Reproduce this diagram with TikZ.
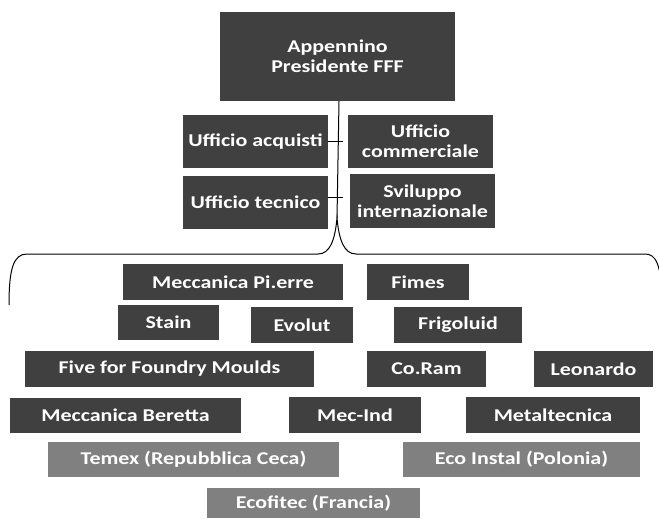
\documentclass[tikz,border=0pt]{standalone}
\usepackage{fontspec}
\setmainfont{Carlito}[FakeStretch=1.22]
\definecolor{boxdark}{HTML}{404040}
\definecolor{boxgrey}{HTML}{808080}
\tikzset{
  orgbox/.style={fill=boxdark,text=white,font=\fontsize{18}{20}\selectfont\bfseries,
    align=center,inner sep=1pt},
  extbox/.style={orgbox,fill=boxgrey},
  link/.style={line width=1pt,black}
}

\begin{document}
\begin{tikzpicture}[x=1pt,y=-1pt]
\useasboundingbox (0,0) rectangle (659,519);
\clip (0,0) rectangle (659,519);

% vertice e uffici
\node[orgbox,minimum width=235,minimum height=89] (app) at (337.5,56.5) {Appennino\\Presidente FFF};
\node[orgbox,minimum width=145,minimum height=53] (acq) at (255.5,141.5) {Ufficio acquisti};
\node[orgbox,minimum width=145,minimum height=53] (comm) at (420.5,141.5) {Ufficio\\commerciale};
\node[orgbox,minimum width=145,minimum height=53] (tec) at (255.5,202.5) {Ufficio tecnico};
\node[orgbox,minimum width=145,minimum height=54] (svil) at (422.5,201) {Sviluppo\\internazionale};

\coordinate (peak) at (337,218);
\coordinate (tick1) at (343,141.5);
\coordinate (tick2) at (343,197);
\draw[link] ([xshift=1.5pt]app.south) -- (peak);
\draw[link] (acq.east) -- (tick1);
\draw[link] (tec.east |- tick2) -- (tick2);

% graffa
\coordinate (bl) at (9,305);
\coordinate (br) at (662,305);
\draw[link] (bl) .. controls (9,270) and (13,254) .. (27,254) -- (318,254)
  .. controls (330,254) and (335,240) .. (peak)
  .. controls (339,240) and (344,254) .. (356,254) -- (645,254)
  .. controls (655,254) and (662,262) .. (br);

% aziende del gruppo
\node[orgbox,minimum width=220,minimum height=36] (pierre) at (233,282) {Meccanica Pi.erre};
\node[orgbox,minimum width=102,minimum height=36] (fimes) at (418,282) {Fimes};
\node[orgbox,minimum width=101,minimum height=35] (stain) at (168.5,322.5) {Stain};
\node[orgbox,minimum width=102,minimum height=36] (evolut) at (302,325) {Evolut};
\node[orgbox,minimum width=128,minimum height=36] (frigo) at (458,325) {Frigoluid};
\node[orgbox,minimum width=289,minimum height=36] (five) at (169.5,369) {Five for Foundry Moulds};
\node[orgbox,minimum width=119,minimum height=36] (coram) at (426.5,369) {Co.Ram};
\node[orgbox,minimum width=119,minimum height=36] (leonardo) at (593.5,369) {Leonardo};
\node[orgbox,minimum width=231,minimum height=35] (beretta) at (125.5,415.5) {Meccanica Beretta};
\node[orgbox,minimum width=132,minimum height=36] (mecind) at (355,415) {Mec-Ind};
\node[orgbox,minimum width=174,minimum height=36] (metal) at (553,415) {Metaltecnica};

% estero
\node[extbox,minimum width=291,minimum height=35] (temex) at (193.5,459.5) {Temex (Repubblica Ceca)};
\node[extbox,minimum width=237,minimum height=35] (ecoinst) at (521.5,459.5) {Eco Instal (Polonia)};
\node[extbox,minimum width=213,minimum height=30] (ecofitec) at (313.5,503) {Ecofitec (Francia)};

\end{tikzpicture}
\end{document}
